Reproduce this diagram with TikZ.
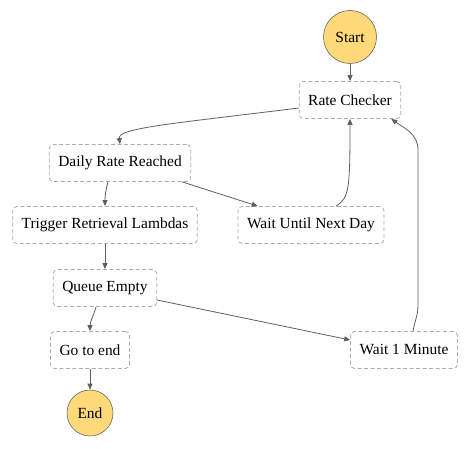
\documentclass[tikz,border=0pt]{standalone}
\usepackage{fontspec}
\setmainfont{Liberation Serif}
\usetikzlibrary{arrows.meta, calc, positioning}

\definecolor{startend}{RGB}{255,217,122}
\definecolor{edgegray}{RGB}{95,95,95}

\tikzset{
	state/.style={draw=gray!65, line width=0.8bp, dash pattern=on 4bp off 2.5bp, rounded corners=4bp,
		fill=white, minimum height=37bp, inner xsep=9bp, font=\fontsize{15.5}{18}\selectfont},
	terminal/.style={circle, draw=gray!80!black, line width=0.6bp, fill=startend, inner sep=0pt,
		font=\fontsize{15.5}{18}\selectfont},
	flow/.style={draw=edgegray, line width=0.8bp, -{Triangle[length=6bp, width=5bp]}}
}

\begin{document}
\begin{tikzpicture}[x=1bp, y=-1bp]
	\useasboundingbox (0,0) rectangle (471,449);
	% states
	\node[terminal, minimum size=53bp] (start) at (350,37) {Start};
	\node[state] (rc) at (350,100) {Rate Checker};
	\node[state] (drr) at (120,163) {Daily Rate Reached};
	\node[state] (trl) at (105,225) {Trigger Retrieval Lambdas};
	\node[state] (wund) at (311,225) {Wait Until Next Day};
	\node[state] (qe) at (105,288) {Queue Empty};
	\node[state] (gte) at (90,350) {Go to end};
	\node[state] (w1m) at (404,350) {Wait 1 Minute};
	\node[terminal, minimum size=46bp] (end) at (90,413) {End};
	% transitions
	\draw[flow] (start) -- (rc);
	\draw[flow] ([yshift=-8bp]rc.west) .. controls (170,124) and (118,128) .. (drr.north);
	\draw[flow] ([xshift=-12bp]drr.south) to[out=-105, in=90] (trl.north);
	\draw[flow] ([xshift=-9bp]drr.south east) -- ([xshift=20bp]wund.north west);
	\draw[flow] ([xshift=25bp]wund.north) .. controls (349,198) and (350,190) .. (rc.south);
	\draw[flow] (trl) -- (qe);
	\draw[flow] ([xshift=-9bp]qe.south) to[out=-105, in=90] (gte.north);
	\draw[flow] ([yshift=-12bp]qe.east) -- ([yshift=10bp]w1m.west);
	\coordinate (w1mlow) at (418,305);
	\coordinate (w1mhigh) at (418,150);
	\draw[flow] ([xshift=9bp]w1m.north) to[out=80, in=-90] (w1mlow) -- (w1mhigh)
		to[out=90, in=-35] ([xshift=-10bp]rc.south east);
	\draw[flow] (gte) -- (end);
\end{tikzpicture}
\end{document}
